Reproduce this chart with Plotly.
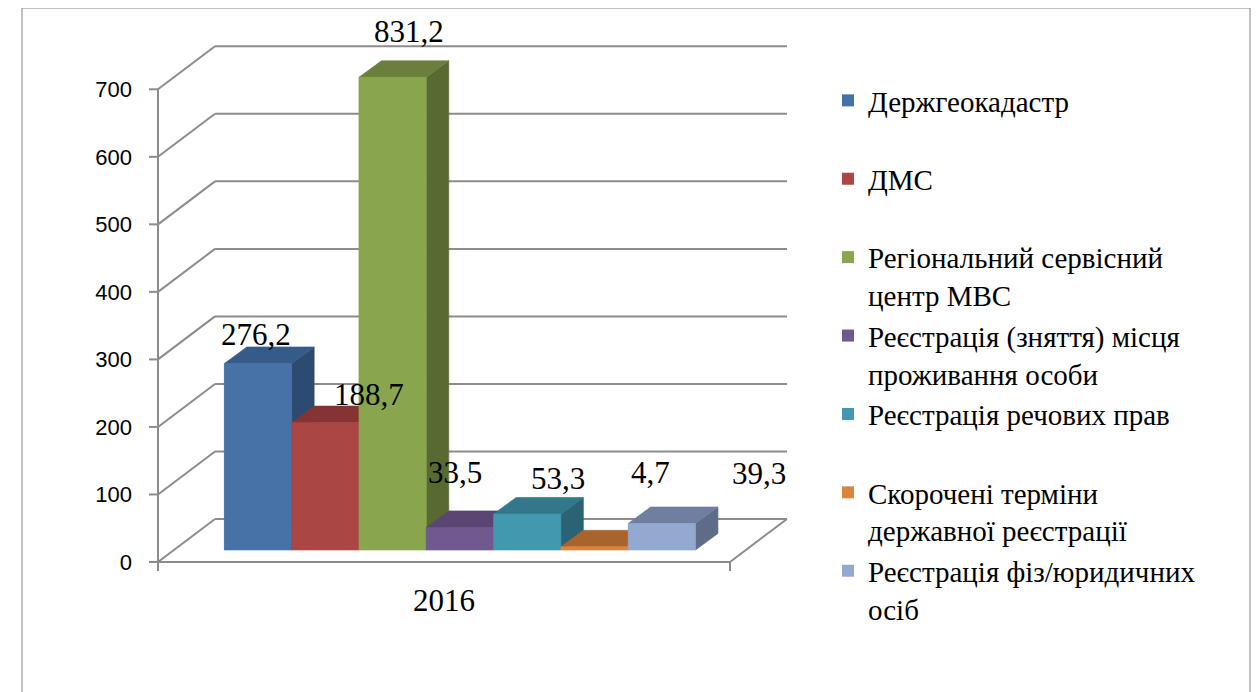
import plotly.graph_objects as go

# ---------------- data ----------------
years = ["2016"]
series_names = [
    "Держгеокадастр",
    "ДМС",
    "Регіональний сервісний<br>центр МВС",
    "Реєстрація (зняття) місця<br>проживання особи",
    "Реєстрація речових прав",
    "Скорочені терміни<br>державної реєстрації",
    "Реєстрація фіз/юридичних<br>осіб",
]
values_2016 = [276.2, 188.7, 831.2, 33.5, 53.3, 4.7, 39.3]
y_ticks = [0, 100, 200, 300, 400, 500, 600, 700]

# ---------------- style ----------------
front_colors = ["#4672A8", "#AA4643", "#89A54E", "#71588F", "#4198AF", "#DB843D", "#93A9CF"]
top_colors = ["#375B89", "#853433", "#6B7F3C", "#5A4672", "#32788A", "#A9642E", "#707F9F"]
side_colors = ["#2D4A70", "#6F2C2B", "#576A31", "#4A3A5E", "#2A6474", "#8C5226", "#5E6C88"]
label_shift_x = [-2, 44, 16, -5, 31, 56, 97]     # px offsets of data labels
label_shift_y = [29, 28, 46, 55, 36, 74, 50]

GRID_COLOR = "#8C8C8C"
SERIF = "Liberation Serif, Times New Roman, DejaVu Serif, serif"
SANS = "Liberation Sans, Arial, sans-serif"

# geometry of the pseudo-3D frame (axis units)
PX_X = 572.0            # px per category unit
PX_Y = 0.6753           # px per value unit
AXIS_MAX = y_ticks[-1]
WALL_DX = 57 / PX_X
WALL_DY = 43 / PX_Y
BAR_W = 67.3 / PX_X
BAR_DX = 22.5 / PX_X
BAR_DY = 16.5 / PX_Y
BAR_BASE = 12 / PX_Y
BAR_SHIFT = BAR_BASE / WALL_DY * WALL_DX
TICK_LEN = 9 / PX_X
TICK_DOWN = 9 / PX_Y

# page body has an 8px margin; plot area on screen: x 148..800, y 10..576
ML, MT = 140, 2
PW, PH = 652, 566
XMIN = -0.5 - 10 / PX_X
XMAX = XMIN + PW / PX_X
YMIN = (562 - 576) / PX_Y
YMAX = YMIN + PH / PX_Y

fig = go.Figure()
shapes = []


def seg(x0, y0, x1, y1):
    shapes.append(dict(type="line", xref="x", yref="y", x0=x0, y0=y0, x1=x1, y1=y1,
                       line=dict(color=GRID_COLOR, width=2), layer="below"))


# walls, gridlines and floor
for v in y_ticks:
    seg(-0.5, v, -0.5 + WALL_DX, v + WALL_DY)
    seg(-0.5 + WALL_DX, v + WALL_DY, 0.5 + WALL_DX, v + WALL_DY)
    seg(-0.5 - TICK_LEN, v, -0.5, v)
seg(-0.5, -TICK_DOWN, -0.5, AXIS_MAX)
seg(-0.5, 0, 0.5, 0)
seg(0.5, 0, 0.5 + WALL_DX, WALL_DY)
seg(0.5, -TICK_DOWN, 0.5, 0)

n = len(values_2016)
start = -n / 2 * BAR_W + BAR_SHIFT
annotations = []
faces = []
for i, (name, val) in enumerate(zip(series_names, values_2016)):
    v = min(val, AXIS_MAX)
    x0 = start + i * BAR_W
    x1 = x0 + BAR_W
    b = BAR_BASE
    t = b + v
    label = name if "<br>" in name else name + "<br>&nbsp;"
    fig.add_trace(go.Bar(
        x=[0], y=[v], base=[b], width=[BAR_W], offset=[x0],
        marker=dict(color=front_colors[i], line=dict(width=0)),
        name=label, hovertext=[name.replace("<br>", " ")], hoverinfo="text+y",
    ))
    faces.append((
        [x1, x1 + BAR_DX, x1 + BAR_DX, x1, x1], [b, b + BAR_DY, t + BAR_DY, t, b], side_colors[i]))
    faces.append((
        [x0, x1, x1 + BAR_DX, x0 + BAR_DX, x0], [t, t, t + BAR_DY, t + BAR_DY, t], top_colors[i]))
    faces.append(([x0, x1, x1, x0, x0], [b, b, t, t, b], front_colors[i]))
    annotations.append(dict(
        x=(x0 + x1) / 2, y=t, xref="x", yref="y",
        text=f"{val:.1f}".replace(".", ","), showarrow=False,
        xshift=label_shift_x[i], yshift=label_shift_y[i],
        xanchor="center", yanchor="middle",
        font=dict(family=SERIF, size=31, color="black"),
    ))

for xs, ys, c in faces:
    fig.add_trace(go.Scatter(
        x=xs, y=ys, mode="lines", fill="toself", fillcolor=c,
        line=dict(color=c, width=0.6), hoverinfo="skip", showlegend=False,
    ))

# chart border (screen px -> paper coords)
shapes.append(dict(type="rect", xref="paper", yref="paper",
                   x0=(22 - 148) / PW, x1=(1250 - 148) / PW,
                   y0=(576 - 700) / PH, y1=(576 - 8) / PH,
                   line=dict(color="#868686", width=1), layer="below"))

fig.update_layout(
    width=1259, height=692,
    margin=dict(l=ML, r=1259 - ML - PW, t=MT, b=692 - MT - PH),
    paper_bgcolor="white", plot_bgcolor="white",
    font=dict(family=SERIF, color="black"),
    barmode="overlay",
    shapes=shapes, annotations=annotations,
    xaxis=dict(range=[XMIN, XMAX], tickvals=list(range(len(years))), ticktext=years,
               showgrid=False, zeroline=False, showline=False, ticks="",
               tickfont=dict(family=SERIF, size=31, color="black"), ticklabelstandoff=3),
    yaxis=dict(range=[YMIN, YMAX], tickvals=y_ticks, ticktext=[str(v) for v in y_ticks],
               showgrid=False, zeroline=False, showline=False, ticks="",
               tickfont=dict(family=SANS, size=22, color="black"), ticklabelstandoff=15),
    legend=dict(x=(828 - 148) / PW, y=(576 - 75) / PH, xanchor="left", yanchor="top",
                valign="top", font=dict(family=SERIF, size=29, color="black"),
                bgcolor="rgba(0,0,0,0)", tracegroupgap=0),
    showlegend=True,
)

fig.write_html("out.html")
